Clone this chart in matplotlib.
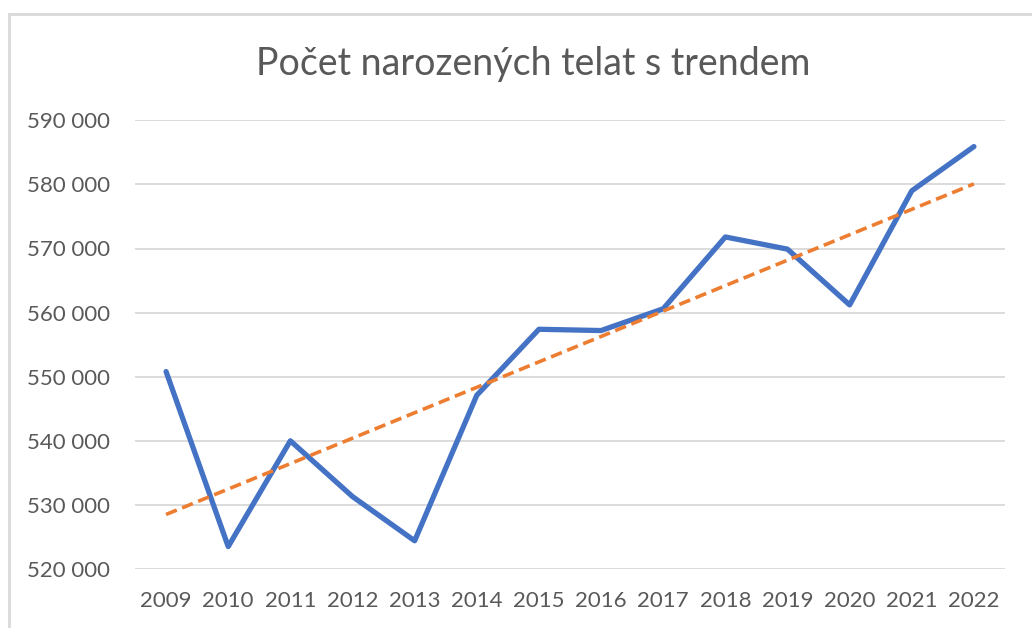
import numpy as np
import matplotlib
matplotlib.use("Agg")
import matplotlib.pyplot as plt
from matplotlib.patches import Rectangle
from matplotlib.ticker import FuncFormatter

# data
years = [2009, 2010, 2011, 2012, 2013, 2014, 2015,
         2016, 2017, 2018, 2019, 2020, 2021, 2022]
calves = [550800, 523500, 540000, 531300, 524400, 547100, 557400,
          557200, 560600, 571800, 569900, 561200, 579000, 585900]
y_ticks = [520000, 530000, 540000, 550000, 560000, 570000, 580000, 590000]

BLUE = "#4472C4"
ORANGE = "#ED7D31"
TEXT = "#595959"
GRID = "#D9D9D9"

plt.rcParams["font.family"] = ["Lato", "DejaVu Sans"]

fig = plt.figure(figsize=(10.32, 6.28), dpi=100)
fig.patches.append(Rectangle((9 / 1032, -0.1), 1.2, 1.1 - 14 / 628,
                             transform=fig.transFigure, fill=False,
                             edgecolor="#D9D9D9", linewidth=2))

ax = fig.add_axes([135 / 1032, 1 - 569 / 628, 870 / 1032, (569 - 120.3) / 628])

x = np.arange(len(years))
ax.plot(x, calves, color=BLUE, linewidth=3.8, solid_joinstyle="round",
        solid_capstyle="round", zorder=3)

# linear trend, like Excel's trendline
k, q = np.polyfit(x, calves, 1)
ax.plot(x, k * x + q, color=ORANGE, linewidth=2.6, linestyle=(0, (3.2, 1.6)),
        zorder=4)

ax.set_xlim(-0.5, len(years) - 0.5)
ax.set_ylim(y_ticks[0], y_ticks[-1])
ax.set_yticks(y_ticks)
ax.yaxis.set_major_formatter(FuncFormatter(lambda v, p: f"{int(v):,}".replace(",", " ")))
ax.set_xticks(x)
ax.set_xticklabels([str(y) for y in years])

ax.grid(axis="y", color=GRID, linewidth=1.3)
ax.set_axisbelow(True)
for s in ax.spines.values():
    s.set_visible(False)
ax.tick_params(axis="both", length=0, labelsize=16, labelcolor=TEXT)
ax.tick_params(axis="y", pad=18)
ax.tick_params(axis="x", pad=16)

# the chart frame runs past the right edge, so the title sits right of centre
fig.text(533 / 1032, 1 - 64 / 628, "Počet narozených telat s trendem",
         ha="center", va="center", fontsize=27, color=TEXT)

fig.savefig("out.png", dpi=100)
